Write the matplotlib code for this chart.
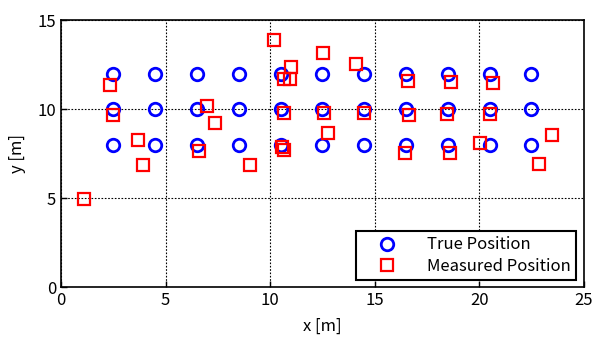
import matplotlib
matplotlib.use('Agg')
import numpy as np
import matplotlib.pyplot as plt

plt.rcParams['font.family'] = ['Noto Sans CJK JP', 'DejaVu Sans']

# true anchor grid
true_x = [2.5, 4.5, 6.5, 8.5, 10.5, 12.5, 14.5, 16.5, 18.5, 20.5, 22.5]
true_y = [8, 10, 12]

# measured positions
meas_x = [2.34, 2.50, 3.70, 3.94, 1.12, 6.98, 7.38, 6.58, 9.05, 10.20, 12.52,
          11.00, 10.65, 10.97, 10.65, 12.57, 12.79, 10.57, 10.68, 14.12, 14.51,
          16.59, 18.67, 20.67, 16.64, 18.48, 20.50, 20.02, 16.43, 18.62, 23.49,
          22.85]
meas_y = [11.35, 9.68, 8.28, 6.89, 4.94, 10.18, 9.20, 7.63, 6.89, 13.89, 13.14,
          12.35, 11.70, 11.72, 9.81, 9.81, 8.67, 7.90, 7.72, 12.53, 9.81,
          11.61, 11.53, 11.48, 9.68, 9.72, 9.72, 8.09, 7.53, 7.53, 8.55,
          6.94]

tx, ty = np.meshgrid(true_x, true_y)

fig = plt.figure(figsize=(5.92, 3.37), dpi=100)
ax = fig.add_axes([0.103, 0.148, 0.883, 0.792])

ax.plot(tx.ravel(), ty.ravel(), 'o', ms=9, mfc='none', mec='#0000ff', mew=2,
        ls='none', label='True Position')
ax.plot(meas_x, meas_y, 's', ms=8, mfc='none', mec='#ff0000', mew=1.6,
        ls='none', label='Measured Position')

ax.set_xlim(0, 25)
ax.set_ylim(0, 15)
ax.set_xticks([0, 5, 10, 15, 20, 25])
ax.set_yticks([0, 5, 10, 15])
ax.grid(True, color='black', ls=(0, (1.5, 1.5)), lw=0.8)
ax.tick_params(direction='in', labelsize=12, length=4, width=1)
for s in ax.spines.values():
    s.set_linewidth(1.2)
ax.set_xlabel('x [m]', fontsize=12, labelpad=6)
ax.set_ylabel('y [m]', fontsize=12, labelpad=8)

leg = ax.legend(loc='lower right', fontsize=12, frameon=True, fancybox=False,
                edgecolor='black', framealpha=1, borderaxespad=0.45,
                handlelength=3.2, handletextpad=0.8, borderpad=0.3,
                labelspacing=0.25)
leg.get_frame().set_linewidth(1.5)

fig.savefig('out.png', dpi=100)
